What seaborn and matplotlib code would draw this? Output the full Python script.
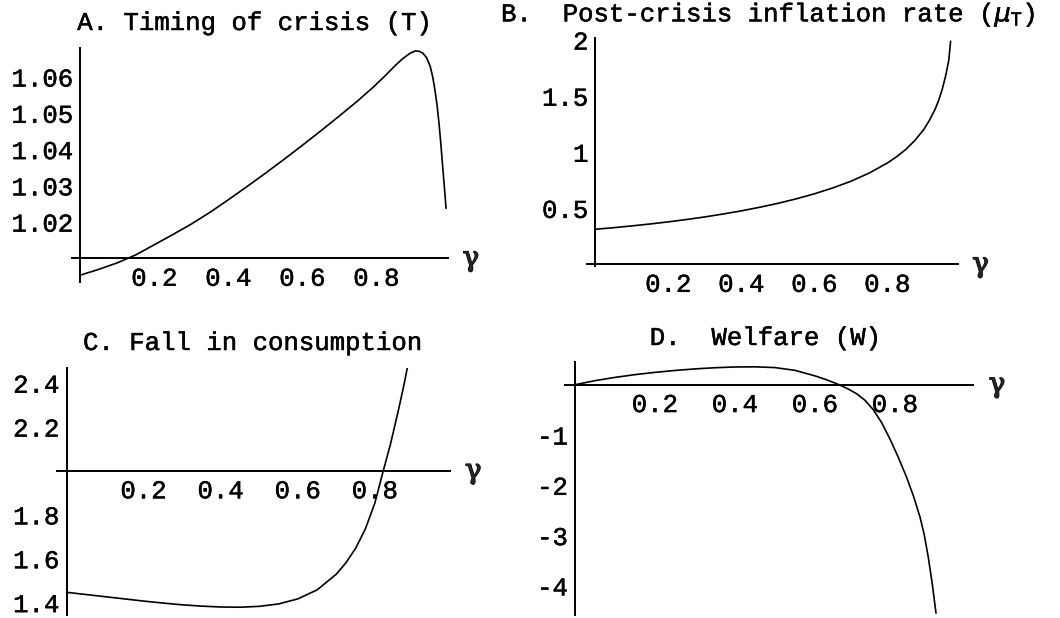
import matplotlib
matplotlib.use("Agg")
import matplotlib.pyplot as plt
import matplotlib.patheffects as pe
from matplotlib.ticker import MultipleLocator, FixedLocator, FixedFormatter
import seaborn as sns

# ---- data -------------------------------------------------------------
# A. Timing of crisis (T) against gamma
gamma_a = [0.0, 0.05, 0.1, 0.15, 0.2, 0.25, 0.3, 0.35, 0.4, 0.45, 0.5, 0.55,
           0.6, 0.65, 0.7, 0.75, 0.79, 0.82, 0.85, 0.87, 0.89, 0.905, 0.915,
           0.925, 0.935, 0.945, 0.952, 0.958, 0.964, 0.969, 0.974, 0.979,
           0.984, 0.988]
timing_t = [1.0054, 1.0070, 1.0088, 1.0110, 1.0138, 1.0166, 1.0195, 1.0227,
            1.0262, 1.0298, 1.0335, 1.0373, 1.0412, 1.0452, 1.0493, 1.0535,
            1.0571, 1.0600, 1.0631, 1.0650, 1.0665, 1.0672, 1.0671, 1.0666,
            1.0654, 1.0630, 1.0600, 1.0564, 1.0520, 1.0472, 1.0415, 1.0352,
            1.0290, 1.0238]

# B. Post-crisis inflation rate (mu_T)
gamma_b = [0.0, 0.05, 0.1, 0.15, 0.2, 0.25, 0.3, 0.35, 0.4, 0.45, 0.5, 0.55,
           0.6, 0.65, 0.7, 0.75, 0.8, 0.825, 0.85, 0.875, 0.9, 0.915, 0.93,
           0.94, 0.95, 0.96, 0.968, 0.973]
inflation_mu = [0.314, 0.328, 0.344, 0.361, 0.380, 0.401, 0.424, 0.450,
                0.478, 0.510, 0.545, 0.585, 0.630, 0.682, 0.742, 0.815,
                0.905, 0.960, 1.025, 1.105, 1.205, 1.285, 1.380, 1.460,
                1.560, 1.690, 1.820, 1.990]

# C. Fall in consumption
gamma_c = [0.0, 0.05, 0.1, 0.15, 0.2, 0.25, 0.3, 0.35, 0.4, 0.45, 0.5, 0.55,
           0.6, 0.65, 0.7, 0.725, 0.75, 0.775, 0.8, 0.82, 0.84, 0.86, 0.875,
           0.884]
consumption_fall = [1.447, 1.437, 1.427, 1.417, 1.407, 1.398, 1.390, 1.384,
                    1.380, 1.379, 1.383, 1.394, 1.417, 1.458, 1.530, 1.582,
                    1.648, 1.735, 1.855, 1.990, 2.120, 2.270, 2.390, 2.470]

# D. Welfare (W)
gamma_d = [0.0, 0.05, 0.1, 0.15, 0.2, 0.25, 0.3, 0.35, 0.4, 0.45, 0.5, 0.55,
           0.6, 0.63, 0.66, 0.683, 0.704, 0.725, 0.746, 0.767, 0.788, 0.808,
           0.829, 0.846, 0.8625, 0.873, 0.883, 0.893, 0.9025]
welfare_w = [0.0, 0.08, 0.145, 0.20, 0.245, 0.283, 0.314, 0.337, 0.352,
             0.355, 0.34, 0.285, 0.175, 0.095, 0.0, -0.085, -0.18, -0.31,
             -0.50, -0.76, -1.09, -1.44, -1.84, -2.21, -2.63, -2.98, -3.42,
             -3.95, -4.54]

# tick values and their printed labels
x_ticks = [0.2, 0.4, 0.6, 0.8]
x_labels = ["0.2", "0.4", "0.6", "0.8"]
a_yticks = [1.02, 1.03, 1.04, 1.05, 1.06]
a_ylabels = ["1.02", "1.03", "1.04", "1.05", "1.06"]
b_yticks = [0.5, 1.0, 1.5, 2.0]
b_ylabels = ["0.5", "1", "1.5", "2"]
c_yticks = [1.4, 1.6, 1.8, 2.2, 2.4]
c_ylabels = ["1.4", "1.6", "1.8", "2.2", "2.4"]
d_yticks = [-4, -3, -2, -1]
d_ylabels = ["-4", "-3", "-2", "-1"]

titles = ["A. Timing of crisis (T)",
          r"B.  Post-crisis inflation rate ($\mu_{\mathtt{T}}$)",
          "C. Fall in consumption",
          "D.  Welfare (W)"]

# ---- style ------------------------------------------------------------
sns.set_theme(style="white")
plt.rcParams["font.family"] = ["Liberation Mono", "DejaVu Sans Mono"]
plt.rcParams["axes.unicode_minus"] = False
plt.rcParams["mathtext.fontset"] = "dejavusans"

FS = 18.5
heavy = [pe.withStroke(linewidth=0.35, foreground="black")]
gamma_fx = [pe.withStroke(linewidth=0.9, foreground="black")]

W, H = 1060, 618
fig = plt.figure(figsize=(W / 100, H / 100), dpi=100)
fig.patch.set_facecolor("white")


def panel(box, xlim, ylim, cross_y, xs, ys, yt, ytl, ymin_step):
    left, top, width, height = box
    ax = fig.add_axes([left / W, 1 - (top + height) / H, width / W, height / H])
    ax.set_facecolor("none")
    sns.lineplot(x=xs, y=ys, ax=ax, color="black", linewidth=1.2,
                 estimator=None, sort=False)
    ax.set_xlim(*xlim)
    ax.set_ylim(*ylim)
    for s in ("top", "right"):
        ax.spines[s].set_visible(False)
    ax.spines["left"].set_position(("data", 0))
    ax.spines["bottom"].set_position(("data", cross_y))
    for s in ("left", "bottom"):
        ax.spines[s].set_color("black")
        ax.spines[s].set_linewidth(1.4)
    ax.xaxis.set_major_locator(FixedLocator(x_ticks))
    ax.xaxis.set_major_formatter(FixedFormatter(x_labels))
    ax.yaxis.set_major_locator(FixedLocator(yt))
    ax.yaxis.set_major_formatter(FixedFormatter(ytl))
    ax.xaxis.set_minor_locator(MultipleLocator(0.05))
    ax.yaxis.set_minor_locator(MultipleLocator(ymin_step))
    ax.tick_params(which="major", direction="in", length=4, width=0.9,
                   color="black", labelsize=FS, labelcolor="black")
    ax.tick_params(which="minor", direction="in", length=2, width=0.7,
                   color="black")
    ax.tick_params(axis="x", which="major", pad=6)
    ax.tick_params(axis="y", which="major", pad=5)
    for lab in ax.get_xticklabels() + ax.get_yticklabels():
        lab.set_path_effects(heavy)
    ax.set_xlabel("")
    ax.set_ylabel("")
    ax.grid(False)
    ax.text(1.055, cross_y, "\u03b3", family="DejaVu Serif", fontsize=20,
            ha="center", va="center", clip_on=False, transform=ax.transData,
            path_effects=gamma_fx)
    return ax


panel((71.6, 48, 376.3, 234), (-0.024, 0.993), (1.0035, 1.068), 1.01,
      gamma_a, timing_t, a_yticks, a_ylabels, 0.002)
panel((586.7, 38.3, 371.2, 227.3), (-0.024, 0.993), (-0.01, 2.016), 0.0,
      gamma_b, inflation_mu, b_yticks, b_ylabels, 0.1)
panel((57.3, 368.3, 392.8, 246.6), (-0.024, 0.995), (1.344, 2.468), 2.0,
      gamma_c, consumption_fall, c_yticks, c_ylabels, 0.05)
panel((565, 361.7, 408.4, 253.4), (-0.025, 0.996), (-4.58, 0.457), 0.0,
      gamma_d, welfare_w, d_yticks, d_ylabels, 0.2)

# panel titles
title_pos = [(255.5, 23, "center"), (501, 15, "left"),
             (253.5, 343, "center"), (766, 338, "center")]
for txt, (tx, ty, ha) in zip(titles, title_pos):
    fig.text(tx / W, 1 - ty / H, txt, fontsize=FS, ha=ha, va="center",
             color="black", path_effects=heavy)

fig.savefig("out.png", dpi=100, facecolor="white")
